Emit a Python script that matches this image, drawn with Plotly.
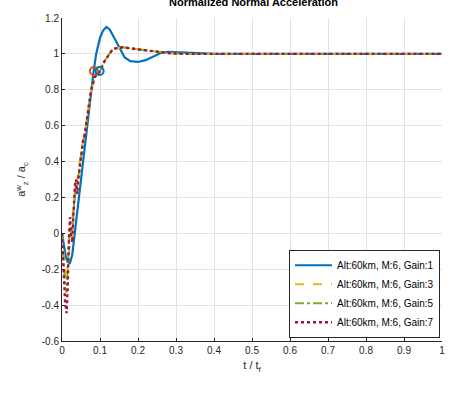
import plotly.graph_objects as go

# Normalized time samples and normal acceleration responses (a_z^w / a_c)
t_g1 = [0, 0.005, 0.01, 0.015, 0.021, 0.027, 0.034, 0.047, 0.058, 0.066, 0.076,
        0.083, 0.09, 0.1, 0.108, 0.117, 0.126, 0.135, 0.15, 0.165, 0.18, 0.2,
        0.22, 0.24, 0.26, 0.28, 0.3, 0.33, 0.36, 0.4, 0.5, 1.0]
a_g1 = [0, -0.07, -0.13, -0.16, -0.165, -0.12, 0.01, 0.25, 0.45, 0.6, 0.8,
        0.9, 1.0, 1.09, 1.13, 1.15, 1.135, 1.1, 1.04, 0.98, 0.96, 0.955,
        0.965, 0.985, 1.005, 1.012, 1.01, 1.003, 1.0, 1.0, 1.0, 1.0]

t_g3 = [0, 0.005, 0.01, 0.015, 0.02, 0.025, 0.03, 0.035, 0.04, 0.05, 0.06,
        0.069, 0.077, 0.086, 0.099, 0.112, 0.134, 0.16, 0.2, 0.243, 0.286,
        0.33, 0.4, 1.0]
a_g3 = [0, -0.15, -0.26, -0.2, -0.06, 0.04, 0.14, 0.22, 0.3, 0.45, 0.56,
        0.69, 0.8, 0.87, 0.9, 0.96, 1.028, 1.037, 1.025, 1.012, 1.003,
        1.0, 1.0, 1.0]

t_g5 = [0, 0.004, 0.008, 0.012, 0.016, 0.02, 0.024, 0.028, 0.032, 0.036, 0.04,
        0.047, 0.055, 0.064, 0.069, 0.077, 0.086, 0.099, 0.112, 0.134, 0.16,
        0.2, 0.243, 0.286, 0.33, 0.4, 1.0]
a_g5 = [0, -0.16, -0.3, -0.33, -0.18, 0.02, 0.03, 0.02, 0.17, 0.26, 0.27,
        0.38, 0.5, 0.61, 0.69, 0.8, 0.87, 0.9, 0.96, 1.028, 1.037,
        1.025, 1.012, 1.003, 1.0, 1.0, 1.0]

t_g7 = [0, 0.004, 0.008, 0.012, 0.015, 0.018, 0.021, 0.024, 0.027, 0.03, 0.034,
        0.037, 0.04, 0.043, 0.047, 0.051, 0.055, 0.06, 0.064, 0.069, 0.077,
        0.086, 0.099, 0.112, 0.134, 0.16, 0.2, 0.243, 0.286, 0.33, 0.4, 1.0]
a_g7 = [0, -0.2, -0.38, -0.445, -0.3, -0.05, 0.09, 0.0, -0.05, 0.1, 0.27,
        0.3, 0.22, 0.3, 0.38, 0.45, 0.51, 0.55, 0.62, 0.69, 0.8,
        0.87, 0.9, 0.96, 1.028, 1.037, 1.025, 1.012, 1.003, 1.0, 1.0, 1.0]

# Rise-time markers
mark_t = [0.084, 0.099]
mark_a = [0.905, 0.905]
mark_colors = ["#D95319", "#0072BD"]

series_names = ["Alt:60km, M:6, Gain:1", "Alt:60km, M:6, Gain:3",
                "Alt:60km, M:6, Gain:5", "Alt:60km, M:6, Gain:7"]

x_ticks = [0, 0.1, 0.2, 0.3, 0.4, 0.5, 0.6, 0.7, 0.8, 0.9, 1]
x_labels = ["0", "0.1", "0.2", "0.3", "0.4", "0.5", "0.6", "0.7", "0.8", "0.9", "1"]
y_ticks = [-0.6, -0.4, -0.2, 0, 0.2, 0.4, 0.6, 0.8, 1, 1.2]
y_labels = ["-0.6", "-0.4", "-0.2", "0", "0.2", "0.4", "0.6", "0.8", "1", "1.2"]

FONT = "Liberation Sans, Arial, sans-serif"
TXT = "#262626"

fig = go.Figure()
styles = [
    (t_g1, a_g1, "#0072BD", "solid", 2.2),
    (t_g3, a_g3, "#EDB120", "dash", 2.0),
    (t_g5, a_g5, "#77AC30", "dashdot", 2.0),
    (t_g7, a_g7, "#A2142F", "dot", 2.4),
]
for (tx, ay, col, dash, w), name in zip(styles, series_names):
    fig.add_trace(go.Scatter(x=tx, y=ay, mode="lines", name=name,
                             line=dict(color=col, dash=dash, width=w)))

for mt, ma, mc in zip(mark_t, mark_a, mark_colors):
    fig.add_trace(go.Scatter(x=[mt], y=[ma], mode="markers", showlegend=False,
                             marker=dict(symbol="circle-open", size=8, color=mc,
                                         line=dict(width=2, color=mc))))

axis_common = dict(showgrid=True, gridcolor="#e3e3e3", gridwidth=1,
                   showline=True, linecolor=TXT, linewidth=1,
                   ticks="inside", ticklen=3, tickcolor=TXT,
                   zeroline=False, tickfont=dict(family=FONT, size=10, color=TXT),
                   mirror=False)

fig.update_layout(
    width=457, height=402,
    margin=dict(l=62, r=12, t=13, b=61),
    paper_bgcolor="white", plot_bgcolor="white",
    font=dict(family=FONT, color=TXT),
    title=dict(text="<b>Normalized Normal Acceleration</b>",
               x=(62 + 445) / 2 / 457, xanchor="center",
               y=1 - 2 / 402, yanchor="middle", yref="container",
               font=dict(family=FONT, size=11, color="#000000")),
    xaxis=dict(range=[0, 1], tickvals=x_ticks, ticktext=x_labels,
               title=dict(text="t / t<sub>f</sub>", standoff=6,
                          font=dict(family=FONT, size=11, color=TXT)),
               **axis_common),
    yaxis=dict(range=[-0.6, 1.2], tickvals=y_ticks, ticktext=y_labels,
               title=dict(text="a<sup>w</sup><sub>z</sub> / a<sub>c</sub>", standoff=13,
                          font=dict(family=FONT, size=11, color=TXT)),
               **axis_common),
    legend=dict(x=(443 - 62) / 383, xanchor="right",
                y=(341 - 293) / 328, yanchor="middle",
                bgcolor="white", bordercolor="#262626", borderwidth=1,
                font=dict(family=FONT, size=10, color="#000000"),
                itemwidth=37, tracegroupgap=0),
    showlegend=True,
)

fig.write_html("out.html")
